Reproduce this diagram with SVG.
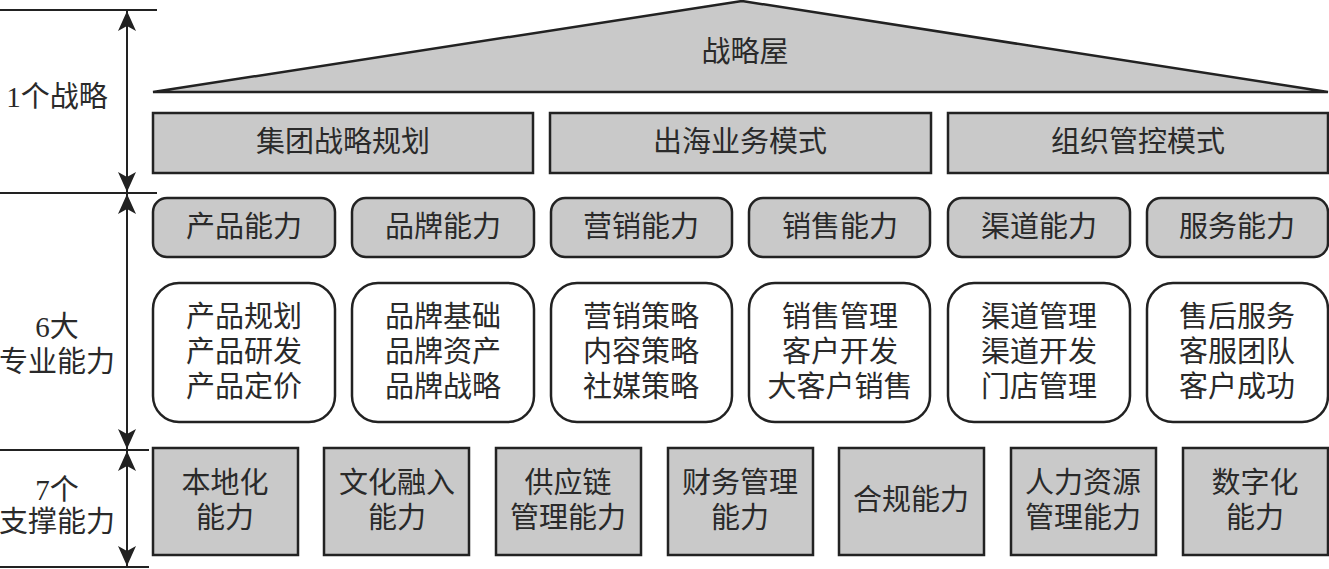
<svg xmlns="http://www.w3.org/2000/svg" width="1329" height="569" viewBox="0 0 1329 569">
<defs>
<style>
.t{font-family:"Liberation Serif","Noto Sans CJK SC",serif;font-size:29px;fill:#2a2a2a;text-anchor:middle;dominant-baseline:central}
.g{fill:#c9c9c9;stroke:#222;stroke-width:2.5}
.w{fill:#fff;stroke:#222;stroke-width:2.5}
.ln{stroke:#222;stroke-width:2;fill:none}
</style>
<marker id="ah" markerUnits="userSpaceOnUse" markerWidth="22" markerHeight="18" refX="20" refY="9" orient="auto-start-reverse">
<path d="M0,0 L20,9 L0,18 L5,9 z" fill="#222"/>
</marker>
</defs>
<rect width="1329" height="569" fill="#fff"/>
<g id="axis">
<line class="ln" x1="0" y1="10" x2="157" y2="10"/>
<line class="ln" x1="0" y1="193" x2="157" y2="193"/>
<line class="ln" x1="0" y1="450" x2="149" y2="450"/>
<line class="ln" x1="0" y1="567" x2="149" y2="567"/>
<text class="t" x="57" y="97">1个战略</text>
<text class="t" x="57" y="327">6大</text>
<text class="t" x="57" y="362">专业能力</text>
<text class="t" x="57" y="490">7个</text>
<text class="t" x="57" y="522">支撑能力</text>
</g>
<g id="connectors">
<line class="ln" x1="127" y1="11" x2="127" y2="192" marker-start="url(#ah)" marker-end="url(#ah)"/>
<line class="ln" x1="127" y1="194" x2="127" y2="449" marker-start="url(#ah)" marker-end="url(#ah)"/>
<line class="ln" x1="127" y1="451" x2="127" y2="566" marker-start="url(#ah)" marker-end="url(#ah)"/>
</g>
<g id="roof">
<polygon class="g" points="153,92 742,1 1328,92"/>
<text class="t" x="745" y="52">战略屋</text>
</g>
<g id="strategy">
<g id="s1"><rect class="g" x="153" y="113" width="380" height="60"/><text class="t" x="343" y="142">集团战略规划</text></g>
<g id="s2"><rect class="g" x="550" y="113" width="381" height="60"/><text class="t" x="740" y="142">出海业务模式</text></g>
<g id="s3"><rect class="g" x="948" y="113" width="380" height="60"/><text class="t" x="1138" y="142">组织管控模式</text></g>
</g>
<g id="capabilities">
<g id="c1"><rect class="g" x="153" y="198" width="182" height="59" rx="14"/><text class="t" x="244" y="227">产品能力</text>
<rect class="w" x="153" y="283" width="182" height="139" rx="26"/><text class="t" x="244" y="317">产品规划</text><text class="t" x="244" y="352">产品研发</text><text class="t" x="244" y="387">产品定价</text></g>
<g id="c2"><rect class="g" x="352" y="198" width="182" height="59" rx="14"/><text class="t" x="443" y="227">品牌能力</text>
<rect class="w" x="352" y="283" width="182" height="139" rx="26"/><text class="t" x="443" y="317">品牌基础</text><text class="t" x="443" y="352">品牌资产</text><text class="t" x="443" y="387">品牌战略</text></g>
<g id="c3"><rect class="g" x="551" y="198" width="181" height="59" rx="14"/><text class="t" x="641" y="227">营销能力</text>
<rect class="w" x="551" y="283" width="181" height="139" rx="26"/><text class="t" x="641" y="317">营销策略</text><text class="t" x="641" y="352">内容策略</text><text class="t" x="641" y="387">社媒策略</text></g>
<g id="c4"><rect class="g" x="749" y="198" width="181" height="59" rx="14"/><text class="t" x="840" y="227">销售能力</text>
<rect class="w" x="749" y="283" width="181" height="139" rx="26"/><text class="t" x="840" y="317">销售管理</text><text class="t" x="840" y="352">客户开发</text><text class="t" x="840" y="387">大客户销售</text></g>
<g id="c5"><rect class="g" x="948" y="198" width="182" height="59" rx="14"/><text class="t" x="1039" y="227">渠道能力</text>
<rect class="w" x="948" y="283" width="182" height="139" rx="26"/><text class="t" x="1039" y="317">渠道管理</text><text class="t" x="1039" y="352">渠道开发</text><text class="t" x="1039" y="387">门店管理</text></g>
<g id="c6"><rect class="g" x="1147" y="198" width="181" height="59" rx="14"/><text class="t" x="1237" y="227">服务能力</text>
<rect class="w" x="1147" y="283" width="181" height="139" rx="26"/><text class="t" x="1237" y="317">售后服务</text><text class="t" x="1237" y="352">客服团队</text><text class="t" x="1237" y="387">客户成功</text></g>
</g>
<g id="support">
<g id="p1"><rect class="g" x="153" y="448" width="145" height="107"/><text class="t" x="225" y="483">本地化</text><text class="t" x="225" y="518">能力</text></g>
<g id="p2"><rect class="g" x="324" y="448" width="145" height="107"/><text class="t" x="397" y="483">文化融入</text><text class="t" x="397" y="518">能力</text></g>
<g id="p3"><rect class="g" x="496" y="448" width="145" height="107"/><text class="t" x="568" y="483">供应链</text><text class="t" x="568" y="518">管理能力</text></g>
<g id="p4"><rect class="g" x="668" y="448" width="145" height="107"/><text class="t" x="740" y="483">财务管理</text><text class="t" x="740" y="518">能力</text></g>
<g id="p5"><rect class="g" x="839" y="448" width="145" height="107"/><text class="t" x="911" y="500">合规能力</text></g>
<g id="p6"><rect class="g" x="1011" y="448" width="145" height="107"/><text class="t" x="1083" y="483">人力资源</text><text class="t" x="1083" y="518">管理能力</text></g>
<g id="p7"><rect class="g" x="1183" y="448" width="145" height="107"/><text class="t" x="1255" y="483">数字化</text><text class="t" x="1255" y="518">能力</text></g>
</g>
</svg>
